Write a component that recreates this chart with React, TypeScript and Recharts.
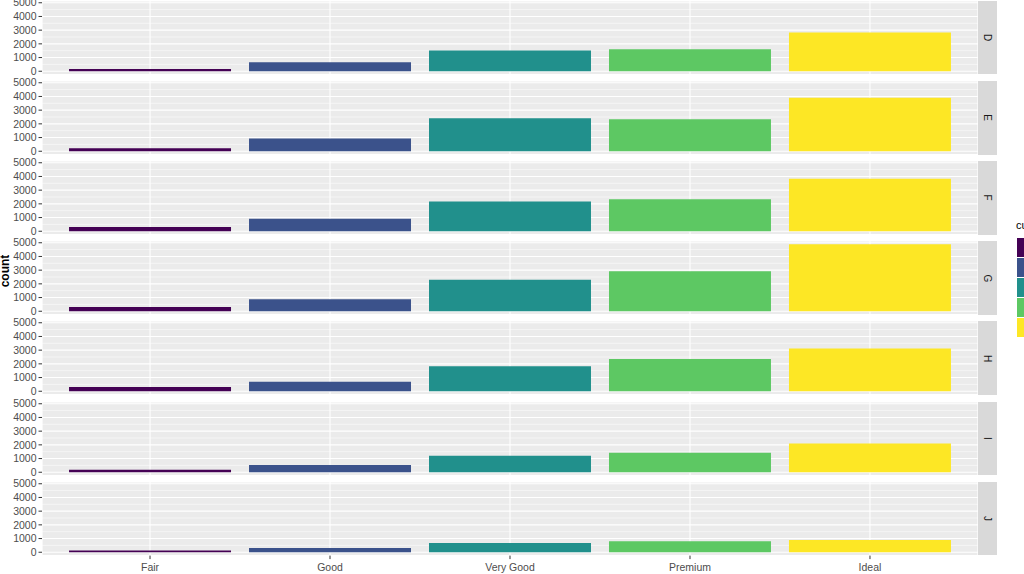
import { BarChart, Bar, XAxis, YAxis, CartesianGrid, Cell } from 'recharts'

const CUTS = ['Fair', 'Good', 'Very Good', 'Premium', 'Ideal']
const CUT_FILLS = ['#440154', '#3B528B', '#21908C', '#5DC863', '#FDE725']
const FACETS = ['D', 'E', 'F', 'G', 'H', 'I', 'J']

// counts per diamond colour, in CUTS order
const COUNT_D = [163, 662, 1513, 1603, 2834]
const COUNT_E = [224, 933, 2400, 2337, 3903]
const COUNT_F = [312, 909, 2164, 2331, 3826]
const COUNT_G = [314, 871, 2299, 2924, 4884]
const COUNT_H = [303, 702, 1824, 2360, 3115]
const COUNT_I = [175, 522, 1204, 1428, 2093]
const COUNT_J = [119, 307, 678, 808, 896]
const FACET_COUNTS = [COUNT_D, COUNT_E, COUNT_F, COUNT_G, COUNT_H, COUNT_I, COUNT_J]

const Y_TICKS = [0, 1000, 2000, 3000, 4000, 5000]
const Y_MINOR = [500, 1500, 2500, 3500, 4500]
// ggplot default 5% expansion of the shared 0..max range
const Y_DOMAIN: [number, number] = [-244.2, 5128.2]

const FONT = "'Liberation Sans', Arial, sans-serif"
const PANEL_TOP = 0.8
const PANEL_STEP = 80.17
const PANEL_H = 73.6
const PLOT_W = 978
const X_AXIS_H = 22

const tickStyle = { fill: '#4D4D4D', fontSize: 10.5, fontFamily: FONT }

function minorLines({ offset }: any) {
    const [lo, hi] = Y_DOMAIN
    return Y_MINOR.map(v => offset.top + ((hi - v) / (hi - lo)) * offset.height)
}

function Panel({ facet, counts, index, last }: { facet: string, counts: number[], index: number, last: boolean }) {
    const data = CUTS.map((cut, i) => ({ cut, count: counts[i] }))
    const top = PANEL_TOP + index * PANEL_STEP

    return (
        <>
            <div style={{ position: 'absolute', left: 0, top }}>
                <BarChart
                    width={PLOT_W}
                    height={PANEL_H + (last ? X_AXIS_H : 0)}
                    data={data}
                    margin={{ top: 0, right: 0, bottom: 0, left: 0 }}
                >
                    <CartesianGrid fill="#EBEBEB" stroke="#FFFFFF" strokeWidth={1.1} />
                    <CartesianGrid
                        vertical={false}
                        fill="none"
                        stroke="#FFFFFF"
                        strokeWidth={0.5}
                        horizontalCoordinatesGenerator={minorLines}
                    />
                    <XAxis
                        dataKey="cut"
                        type="category"
                        hide={!last}
                        height={X_AXIS_H}
                        padding={{ left: 18, right: 18 }}
                        axisLine={false}
                        tickSize={3.5}
                        tickMargin={4}
                        tickLine={{ stroke: '#333333' }}
                        tick={tickStyle}
                        interval={0}
                    />
                    <YAxis
                        type="number"
                        width={42}
                        domain={Y_DOMAIN}
                        ticks={Y_TICKS}
                        allowDataOverflow
                        axisLine={false}
                        tickSize={3.5}
                        tickMargin={2}
                        tickLine={{ stroke: '#333333' }}
                        tick={tickStyle}
                        interval={0}
                    />
                    <Bar dataKey="count" barSize={162} isAnimationActive={false}>
                        {data.map((d, i) => (
                            <Cell key={`cell-${d.cut}`} fill={CUT_FILLS[i]} />
                        ))}
                    </Bar>
                </BarChart>
            </div>
            <div
                style={{
                    position: 'absolute',
                    left: PLOT_W,
                    top,
                    width: 19,
                    height: PANEL_H,
                    background: '#D9D9D9',
                    display: 'flex',
                    alignItems: 'center',
                    justifyContent: 'center'
                }}
            >
                <span style={{ transform: 'rotate(90deg)', fontSize: 10, color: '#1A1A1A', fontFamily: FONT }}>
                    {facet}
                </span>
            </div>
        </>
    )
}

export default function App() {
    return (
        <div
            style={{
                position: 'fixed',
                left: 0,
                top: 0,
                width: 1024,
                height: 574,
                overflow: 'hidden',
                background: '#FFFFFF',
                fontFamily: FONT
            }}
        >
            <style>{'.recharts-surface { overflow: visible; } .recharts-wrapper { overflow: visible; }'}</style>
            {FACETS.map((facet, i) => (
                <Panel
                    key={facet}
                    facet={facet}
                    counts={FACET_COUNTS[i]}
                    index={i}
                    last={i === FACETS.length - 1}
                />
            ))}

            <div
                style={{
                    position: 'absolute',
                    left: 5,
                    top: 271,
                    transform: 'translate(-50%, -50%) rotate(-90deg)',
                    fontSize: 12,
                    fontWeight: 'bold',
                    whiteSpace: 'nowrap',
                    color: '#000000'
                }}
            >
                count
            </div>

            <div style={{ position: 'absolute', left: 1016, top: 219, fontSize: 11, color: '#000000' }}>cut</div>
            {CUTS.map((cut, i) => (
                <div
                    key={cut}
                    title={cut}
                    style={{
                        position: 'absolute',
                        left: 1017,
                        top: 238 + i * 19.9,
                        width: 20,
                        height: 19,
                        background: CUT_FILLS[i]
                    }}
                />
            ))}
        </div>
    )
}
